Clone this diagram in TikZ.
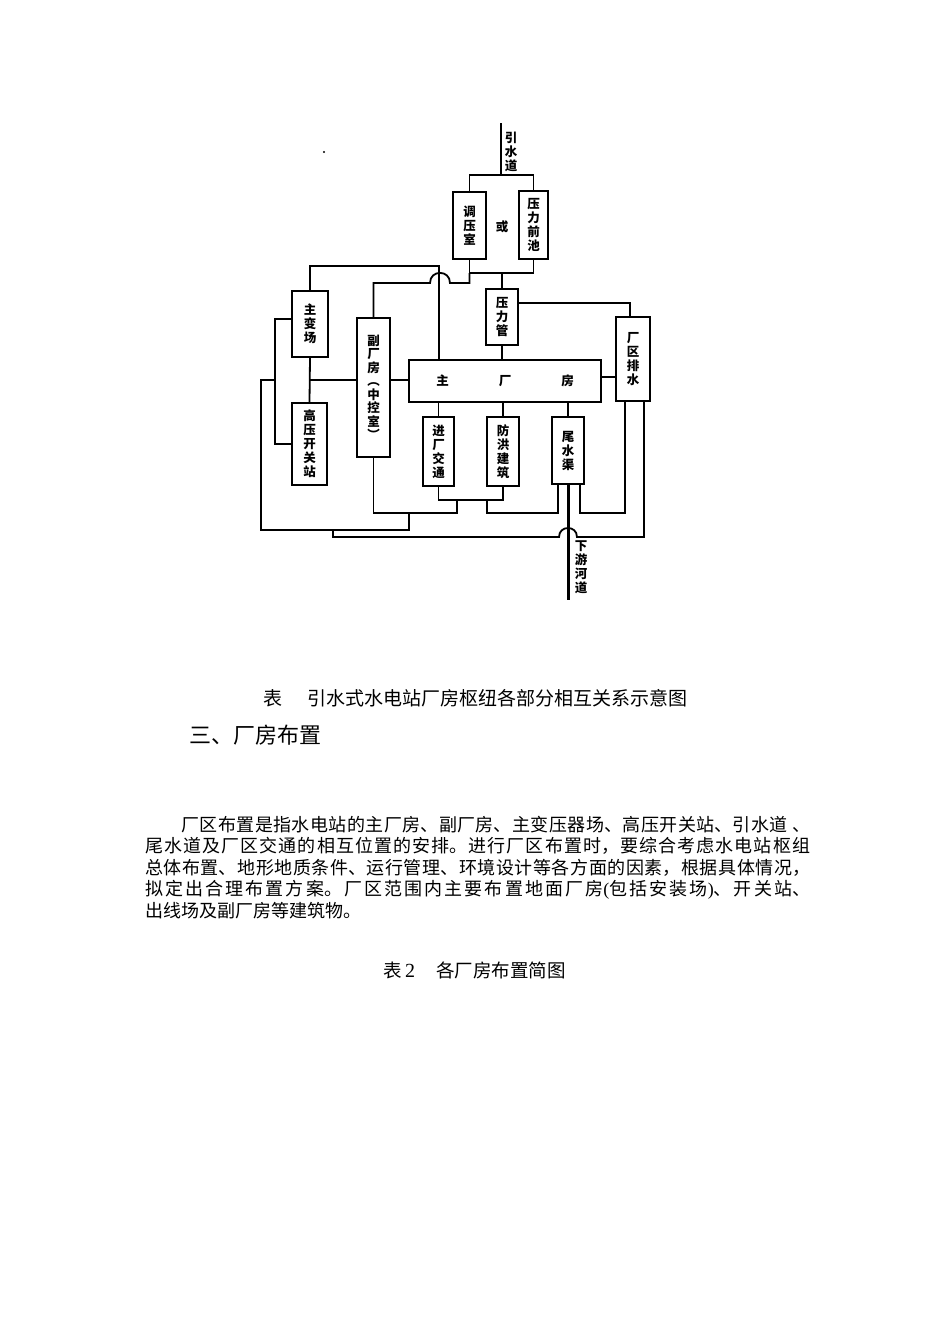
\documentclass[tikz,border=0pt]{standalone}
\usepackage{fontspec}
\setmainfont{Noto Sans CJK SC}
\newfontfamily\tnr{Liberation Serif}
\XeTeXlinebreaklocale "zh"
\XeTeXlinebreakskip=0pt plus 3pt
\usetikzlibrary{calc}
\tikzset{
  box/.style={draw, line width=1.8pt, inner sep=0pt, align=center, font=\bfseries\fontsize{12.5}{14}\selectfont},
  wire/.style={line width=1.8pt},
  thickwire/.style={line width=3pt},
  lbl/.style={inner sep=0pt, align=center, font=\bfseries\fontsize{12.5}{14}\selectfont},
  txt/.style={anchor=base west, inner sep=0pt},
}
\begin{document}
\begin{tikzpicture}[x=1pt,y=-1pt,line join=miter]
\useasboundingbox (0,0) rectangle (950,1344);
\fill[white] (0,0) rectangle (950,1344);

% boxes
\node[box, minimum width=33pt, minimum height=67pt] (tiaoya) at (469.5,225.5) {调\\压\\室};
\node[box, minimum width=29pt, minimum height=68pt] (qianchi) at (533.5,225) {压\\力\\前\\池};
\node[box, minimum width=32pt, minimum height=56pt] (guan) at (502,317) {压\\力\\管};
\node[box, minimum width=36pt, minimum height=66pt] (zhubian) at (310,324) {主\\变\\场};
\node[box, minimum width=33pt, minimum height=139pt, font=\bfseries\fontsize{12.5}{13.5}\selectfont] (fu) at (373.5,387.5) {副\\厂\\房\\︵\\中\\控\\室\\︶};
\node[box, minimum width=192pt, minimum height=42pt] (main) at (505,381) {主\hspace{50pt}厂\hspace{50pt}房};
\node[box, minimum width=34pt, minimum height=84pt] (pai) at (633,359) {厂\\区\\排\\水};
\node[box, minimum width=35pt, minimum height=82pt] (gaoya) at (309.5,444) {高\\压\\开\\关\\站};
\node[box, minimum width=31pt, minimum height=69pt] (jin) at (438.5,451.5) {进\\厂\\交\\通};
\node[box, minimum width=32pt, minimum height=69pt] (fang) at (503,451.5) {防\\洪\\建\\筑};
\node[box, minimum width=32pt, minimum height=67pt] (wei) at (568,450.5) {尾\\水\\渠};

% labels
\node[lbl] (yinshui) at (511,152) {引\\水\\道};
\node[lbl] (xiayou) at (581,567) {下\\游\\河\\道};
\node[lbl] (huo) at (502,227) {或};
\fill (324,152) circle (1.1);

% intake
\coordinate (inTop) at (501,123);
\coordinate (inJ) at (501,175);
\draw[wire] (inTop) -- (inJ);
\draw[wire] (tiaoya.north) -- (tiaoya.north |- inJ) -- (qianchi.north |- inJ) -- (qianchi.north);

\coordinate (j2) at (502,273);
\draw[wire] (tiaoya.south) -- (tiaoya.south |- j2) -- (qianchi.south |- j2) -- (qianchi.south);
\draw[wire] (j2) -- (guan.north);

\coordinate (p3) at (630,303);
\draw[wire] (guan.east |- p3) -- (p3) -- (p3 |- pai.north);
\draw[wire] (guan.south) -- (guan.south |- main.north);

\coordinate (b5) at (439,266);
\draw[wire] (zhubian.north) |- (b5) -- (b5 |- main.north);

\coordinate (c6) at (373.5,283);
\coordinate (h6a) at (430,283);
\coordinate (h6b) at (450,283);
\coordinate (c6e) at (469.5,283);
\draw[wire] (fu.north) -- (c6) -- (h6a) .. controls (430,269.5) and (450,269.5) .. (h6b) -- (c6e) -- (tiaoya.south |- j2);

\coordinate (j7) at (309.5,380);
\draw[wire] (zhubian.south) -- (gaoya.north);
\draw[wire] (j7) -- (j7 -| fu.west);
\draw[wire] (fu.east |- j7) -- (main.west |- j7);

\coordinate (k9) at (275,319);
\coordinate (k9b) at (275,444);
\draw[wire] (zhubian.west |- k9) -- (k9) -- (k9b) -- (gaoya.west |- k9b);

\coordinate (k10) at (275,380);
\coordinate (L10) at (261,380);
\coordinate (L10b) at (261,530);
\coordinate (M10) at (409,530);
\coordinate (M10t) at (409,513);
\draw[wire] (k10) -- (L10) -- (L10b) -- (M10) -- (M10t);

\coordinate (m11) at (373.5,513);
\coordinate (m11e) at (457,513);
\coordinate (m11t) at (457,500);
\draw[wire] (fu.south) -- (m11) -- (m11e) -- (m11t);

\coordinate (n12) at (438.5,500);
\draw[wire] (jin.south) -- (n12) -- (n12 -| fang.south) -- (fang.south);

\coordinate (o13) at (487,500);
\coordinate (o13b) at (487,513);
\coordinate (o13c) at (558,513);
\draw[wire] (o13) -- (o13b) -- (o13c) -- (o13c |- wei.south);

\draw[wire] (main.south -| jin.north) -- (jin.north);
\draw[wire] (main.south -| fang.north) -- (fang.north);
\draw[wire] (main.south -| wei.north) -- (wei.north);

\coordinate (outB) at (568,600);
\draw[thickwire] (wei.south) -- (outB);

\coordinate (q16) at (580,513);
\coordinate (q16b) at (625,513);
\draw[wire] (q16 |- wei.south) -- (q16) -- (q16b) -- (q16b |- pai.south);

\coordinate (r17) at (644,537);
\coordinate (r17h1) at (577,537);
\coordinate (r17h2) at (559,537);
\coordinate (r17l) at (333,537);
\coordinate (r17t) at (333,530);
\draw[wire] (r17 |- pai.south) -- (r17) -- (r17h1) .. controls (577,525) and (559,525) .. (r17h2) -- (r17l) -- (r17t);

\coordinate (s18) at (605,377);
\draw[wire] (main.east |- s18) -- (pai.west |- s18);

% text
\node[txt, font=\fontsize{19}{19}\selectfont] (cap1a) at (263,705) {表};
\node[txt, font=\fontsize{19}{19}\selectfont] (cap1b) at (307,705) {引水式水电站厂房枢纽各部分相互关系示意图};
\node[txt, font=\fontsize{22}{22}\selectfont] (head) at (189,743.5) {三、厂房布置};
\node[anchor=north west, inner sep=0pt, text width=665pt, align=justify, font=\fontsize{18}{21.4}\selectfont] (para) at (145,816)
{\hspace*{36pt}厂区布置是指水电站的主厂房、副厂房、主变压器场、高压开关站、引水道 、\linebreak
尾水道及厂区交通的相互位置的安排。进行厂区布置时，要综合考虑水电站枢组\linebreak
总体布置、地形地质条件、运行管理、环境设计等各方面的因素，根据具体情况，\linebreak
拟定出合理布置方案。厂区范围内主要布置地面厂房{\tnr (}包括安装场{\tnr )}、开关站、\linebreak
出线场及副厂房等建筑物。};
\node[txt, font=\fontsize{18.5}{18.5}\selectfont] (cap2a) at (383,977) {表};
\node[txt, font=\tnr\fontsize{20}{20}\selectfont] (cap2b) at (405,977) {2};
\node[txt, font=\fontsize{18.5}{18.5}\selectfont] (cap2c) at (436,977) {各厂房布置简图};
\end{tikzpicture}
\end{document}
